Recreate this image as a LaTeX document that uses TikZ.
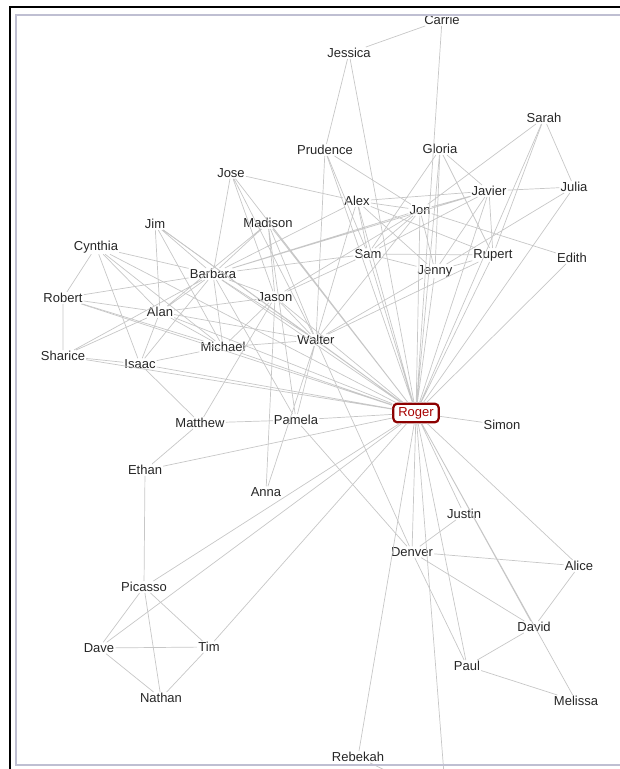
\documentclass[tikz,border=0pt]{standalone}
\usepackage{fontspec}
\setmainfont{Liberation Sans}

\begin{document}
\begin{tikzpicture}[x=1pt,y=-1pt,
  link/.style={draw=black!22,line width=0.7pt},
  person/.style={font=\fontsize{13}{15}\selectfont,text=black!85,inner sep=1pt},
  ego/.style={person,draw=red!55!black,line width=2.2pt,rounded corners=4pt,text=red!65!black,inner xsep=5pt,inner ysep=3.5pt},
  frame/.style={draw=blue!30!black!25,line width=2pt},
]
\useasboundingbox (0,0) rectangle (620,769);
\clip (0,0) rectangle (620,769);

\node[person] (carrie) at (442,20) {Carrie};
\node[person] (jessica) at (349,53) {Jessica};
\node[person] (sarah) at (544,118) {Sarah};
\node[person] (prudence) at (325,150) {Prudence};
\node[person] (gloria) at (440,149) {Gloria};
\node[person] (jose) at (231,173) {Jose};
\node[person] (javier) at (489,191) {Javier};
\node[person] (julia) at (574,187) {Julia};
\node[person] (alex) at (357,201) {Alex};
\node[person] (jon) at (420,210) {Jon};
\node[person] (jim) at (155,224) {Jim};
\node[person] (madison) at (268,223) {Madison};
\node[person] (cynthia) at (96,247) {Cynthia};
\node[person] (sam) at (368,254) {Sam};
\node[person] (rupert) at (493,255) {Rupert};
\node[person] (edith) at (572,258) {Edith};
\node[person] (jenny) at (435,271) {Jenny};
\node[person] (barbara) at (213,274) {Barbara};
\node[person] (robert) at (63,298) {Robert};
\node[person] (jason) at (275,297) {Jason};
\node[person] (alan) at (160,312) {Alan};
\node[person] (walter) at (316,340) {Walter};
\node[person] (michael) at (223,347) {Michael};
\node[person] (sharice) at (63,356) {Sharice};
\node[person] (isaac) at (140,364) {Isaac};
\node[ego] (roger) at (416,413) {Roger};
\node[person] (simon) at (502,425) {Simon};
\node[person] (matthew) at (200,423) {Matthew};
\node[person] (pamela) at (296,420) {Pamela};
\node[person] (ethan) at (145,470) {Ethan};
\node[person] (anna) at (266,492) {Anna};
\node[person] (justin) at (464,514) {Justin};
\node[person] (denver) at (412,552) {Denver};
\node[person] (alice) at (579,566) {Alice};
\node[person] (picasso) at (144,587) {Picasso};
\node[person] (david) at (534,627) {David};
\node[person] (dave) at (99,648) {Dave};
\node[person] (tim) at (209,647) {Tim};
\node[person] (paul) at (467,666) {Paul};
\node[person] (nathan) at (161,698) {Nathan};
\node[person] (melissa) at (576,701) {Melissa};
\node[person] (rebekah) at (358,757) {Rebekah};
\coordinate (below) at (446,800);

% ties of the ego
\draw[link] (roger)--(carrie) (roger)--(jessica) (roger)--(sarah) (roger)--(prudence)
  (roger)--(gloria) (roger)--(javier) (roger)--(julia) (roger)--(alex) (roger)--(jon)
  (roger)--(madison) (roger)--(sam) (roger)--(rupert) (roger)--(edith) (roger)--(jenny)
  (roger)--(barbara) (roger)--(jason) (roger)--(alan) (roger)--(walter) (roger)--(michael)
  (roger)--(sharice) (roger)--(isaac) (roger)--(robert) (roger)--(cynthia) (roger)--(jim)
  (roger)--(jose) (roger)--(simon) (roger)--(pamela) (roger)--(ethan) (roger)--(justin)
  (roger)--(denver) (roger)--(alice) (roger)--(picasso) (roger)--(david) (roger)--(dave)
  (roger)--(tim) (roger)--(paul) (roger)--(melissa) (roger)--(rebekah) (roger)--(below);

% upper group
\draw[link] (carrie)--(jessica) (jessica)--(prudence)
  (prudence)--(walter) (prudence)--(sam) (prudence)--(jon)
  (sarah)--(julia) (sarah)--(jon) (sarah)--(rupert)
  (gloria)--(javier) (gloria)--(rupert) (gloria)--(jenny) (gloria)--(sam)
  (jose)--(alex) (jose)--(barbara) (jose)--(jason) (jose)--(walter)
  (alex)--(javier) (alex)--(jon) (alex)--(sam) (alex)--(rupert) (alex)--(jenny)
  (alex)--(barbara) (alex)--(walter)
  (javier)--(julia) (javier)--(jon) (javier)--(sam) (javier)--(rupert)
  (javier)--(barbara) (javier)--(jenny)
  (jon)--(edith) (jon)--(sam) (jon)--(jenny) (jon)--(barbara) (jon)--(jason) (jon)--(walter)
  (julia)--(jenny) (rupert)--(walter) (jenny)--(walter)
  (sam)--(rupert) (sam)--(jenny) (sam)--(barbara) (sam)--(jason) (rupert)--(jenny);

% left group
\draw[link] (madison)--(barbara) (madison)--(walter) (madison)--(jason)
  (madison)--(alan) (madison)--(pamela)
  (jim)--(alan) (jim)--(barbara) (jim)--(michael) (jim)--(walter)
  (cynthia)--(robert) (cynthia)--(barbara) (cynthia)--(alan) (cynthia)--(isaac)
  (cynthia)--(michael)
  (robert)--(sharice) (robert)--(barbara) (robert)--(alan) (robert)--(michael)
  (barbara)--(alan) (barbara)--(sharice) (barbara)--(isaac) (barbara)--(michael)
  (barbara)--(jason) (barbara)--(walter) (barbara)--(pamela)
  (alan)--(sharice) (alan)--(isaac) (alan)--(michael) (alan)--(jason) (alan)--(walter)
  (sharice)--(isaac) (isaac)--(michael) (isaac)--(matthew)
  (michael)--(walter) (michael)--(jason) (jason)--(walter) (jason)--(matthew)
  (walter)--(pamela) (walter)--(anna) (walter)--(denver) (anna)--(jason)
  (matthew)--(pamela) (matthew)--(ethan) (pamela)--(denver);

% lower groups
\draw[link] (ethan)--(picasso) (picasso)--(nathan) (picasso)--(dave) (picasso)--(tim)
  (dave)--(tim) (dave)--(nathan) (tim)--(nathan)
  (denver)--(justin) (denver)--(alice) (denver)--(david) (denver)--(paul)
  (david)--(alice) (david)--(paul) (paul)--(melissa) (rebekah)--(below);

% window frame
\draw[frame] (16,15) rectangle (640,765);
\draw[line width=2.5pt] (9,7) -- (640,7);
\draw[line width=2.5pt] (10,6) -- (10,780);
\end{tikzpicture}
\end{document}
